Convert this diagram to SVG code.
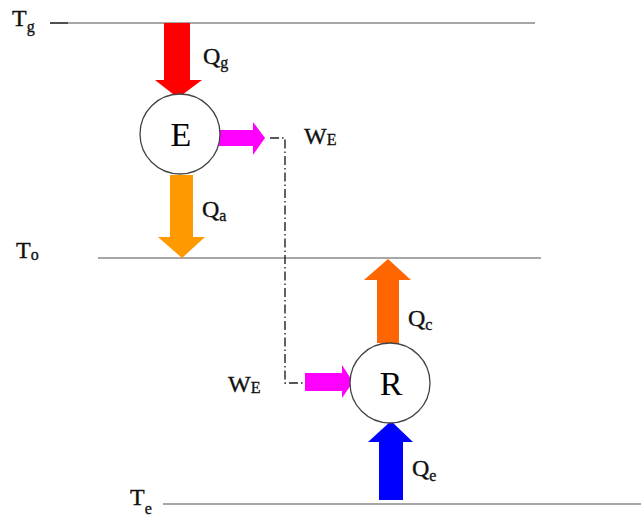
<svg xmlns="http://www.w3.org/2000/svg" width="641" height="522" viewBox="0 0 641 522">
<style>
.lvl{stroke:#8a8a8a;stroke-width:1.6;fill:none}
.t{font-family:"Liberation Serif","Times New Roman",serif;font-size:24px;fill:#111;stroke:#111;stroke-width:0.35}
.s{font-size:16px}
.c{fill:#fff;stroke:#444;stroke-width:1.3}
.big{font-family:"Liberation Serif","Times New Roman",serif;font-size:34px;fill:#000;text-anchor:middle}
.link{stroke:#222;stroke-width:1.4;fill:none;stroke-dasharray:9 3 1.5 3}
</style>
<rect width="641" height="522" fill="#fff"/>
<g id="levels">
<line class="lvl" x1="68" y1="23" x2="535" y2="23"/>
<line x1="50" y1="23" x2="68" y2="23" stroke="#222" stroke-width="1.6"/>
<line class="lvl" x1="98" y1="258" x2="541" y2="258"/>
<line class="lvl" x1="163" y1="504" x2="641" y2="504"/>
<text class="t" x="12" y="26">T<tspan class="s" dy="6">g</tspan></text>
<text class="t" x="16" y="258">T<tspan class="s" dy="2">o</tspan></text>
<text class="t" x="130" y="505">T<tspan class="s" dy="9">e</tspan></text>
</g>
<g id="connectors">
<polygon fill="#ff0000" points="164,23 190,23 190,80 202,80 178,98 155,80 164,80"/>
<polygon fill="#ff9900" points="170,175 193,175 193,237 205,237 182,258 158,237 170,237"/>
<polygon fill="#ff00ff" points="217,130 253,130 253,122 265,138 253,155 253,146 217,146"/>
<polygon fill="#ff6600" points="377,343 399,343 399,280 411,280 388,259 364,280 377,280"/>
<polygon fill="#ff00ff" points="305,373 342,373 342,365 353,382 342,398 342,391 305,391"/>
<polygon fill="#0000ff" points="379,500 403,500 403,442 413,442 391,421 368,442 379,442"/>
<polyline class="link" points="270,138 285,138 285,383 305,383"/>
<text class="t" x="203" y="64">Q<tspan class="s" dy="4">g</tspan></text>
<text class="t" x="202" y="217">Q<tspan class="s" dy="4">a</tspan></text>
<text class="t" x="408" y="326">Q<tspan class="s" dy="4">c</tspan></text>
<text class="t" x="412" y="476">Q<tspan class="s" dy="5">e</tspan></text>
<text class="t" x="304" y="144">W<tspan class="s" dy="1">E</tspan></text>
<text class="t" x="228" y="392">W<tspan class="s" dy="1">E</tspan></text>
</g>
<g id="E">
<circle class="c" cx="180" cy="134" r="40"/>
<text class="big" x="181" y="146">E</text>
</g>
<g id="R">
<circle class="c" cx="390" cy="383" r="40"/>
<text class="big" x="391" y="395">R</text>
</g>
</svg>
